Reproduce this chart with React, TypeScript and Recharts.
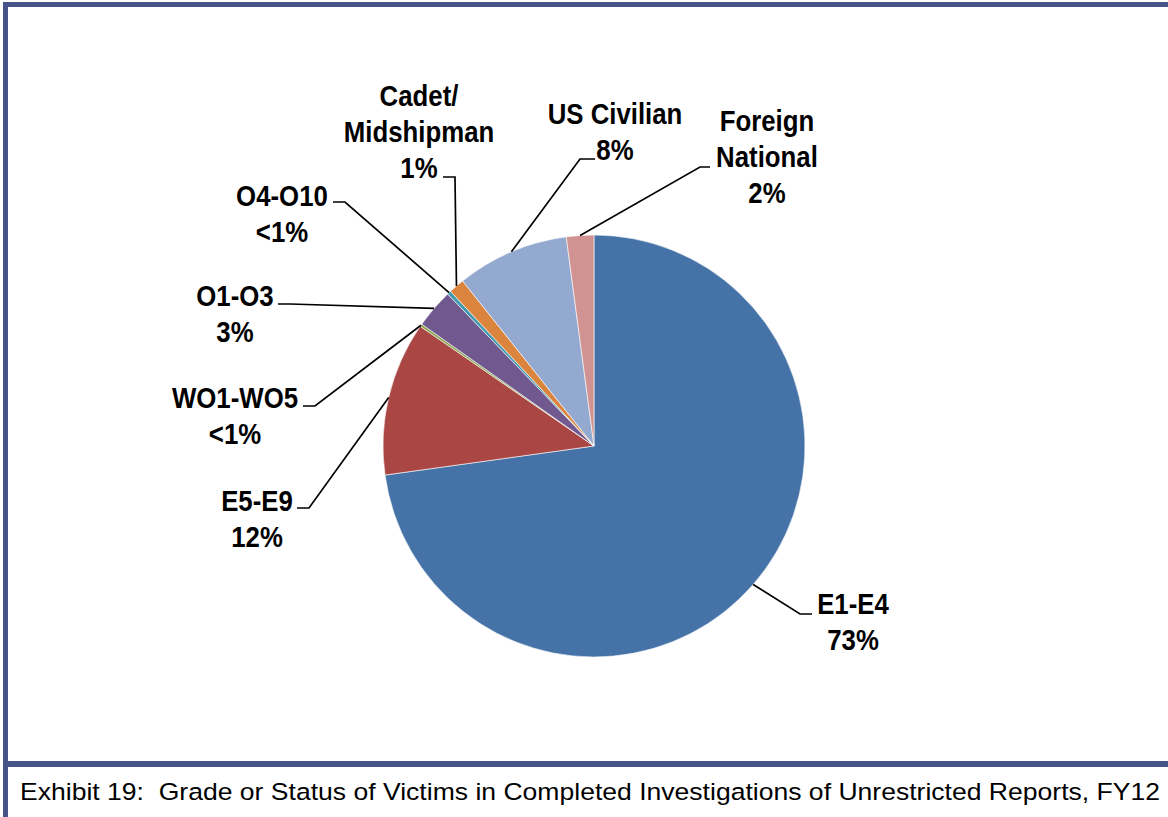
import React from "react";
import { Cell, Pie, PieChart } from "recharts";

// victims by grade / status, percent of total
const grades = ["E1-E4", "E5-E9", "WO1-WO5", "O1-O3", "O4-O10", "Cadet/Midshipman", "US Civilian", "Foreign National"];
const shares = [72.8, 11.8, 0.2, 3.0, 0.3, 1.2, 8.6, 2.1];
const shareLabels = ["73%", "12%", "<1%", "3%", "<1%", "1%", "8%", "2%"];
// how each name is broken over lines in the label
const nameLines = [["E1-E4"], ["E5-E9"], ["WO1-WO5"], ["O1-O3"], ["O4-O10"], ["Cadet/", "Midshipman"], ["US Civilian"], ["Foreign", "National"]];

const colors = ["#4572A7", "#AA4643", "#89A54E", "#71588F", "#4198AF", "#DB843D", "#93A9CF", "#D19392"];
const frameColor = "#46548A";

// label placement: text centre x, first line centre y, leader elbow (ex, ey) and end ax
const labelLayout = [
  { tx: 853, ty: 603, ex: 800, ey: 614, ax: 812 },
  { tx: 257, ty: 500, ex: 309, ey: 508, ax: 297 },
  { tx: 235, ty: 397, ex: 315, ey: 406, ax: 303 },
  { tx: 235, ty: 295, ex: 290, ey: 304, ax: 278 },
  { tx: 282, ty: 195, ex: 345, ey: 202, ax: 333 },
  { tx: 419, ty: 95, ex: 455, ey: 177, ax: 443 },
  { tx: 615, ty: 113, ex: 580, ey: 159, ax: 595 },
  { tx: 767, ty: 120, ex: 700, ey: 167, ax: 710 }
];

const data = grades.map((name, i) => ({ name, value: shares[i] }));

const RAD = Math.PI / 180;
const labelFont = "'Liberation Sans', Arial, sans-serif";

function renderLabel(props: any) {
  const { cx, cy, midAngle, outerRadius, index } = props;
  const px = cx + outerRadius * Math.cos(-midAngle * RAD);
  const py = cy + outerRadius * Math.sin(-midAngle * RAD);
  const l = labelLayout[index];
  const lines = [...nameLines[index], shareLabels[index]];
  return (
    <g key={`lbl-${index}`}>
      <polyline
        points={`${px},${py} ${l.ex},${l.ey} ${l.ax},${l.ey}`}
        fill="none"
        stroke="#000"
        strokeWidth={1.7}
      />
      {/* narrow bold look: Arial bold squeezed horizontally */}
      <text
        transform={`translate(${l.tx},0) scale(0.86,1)`}
        textAnchor="middle"
        fontFamily={labelFont}
        fontWeight="bold"
        fontSize={30}
        fill="#000"
      >
        {lines.map((t, j) => (
          <tspan key={j} x={0} y={l.ty + j * 36 + 11}>
            {t}
          </tspan>
        ))}
      </text>
    </g>
  );
}

export default function App() {
  return (
    <div style={{ position: "relative", width: 1168, height: 817, background: "#fff" }}>
      <style>{"body { margin: 0; }"}</style>
      <div style={{ position: "absolute", left: 0, top: 0 }}>
        <PieChart width={1168} height={760} margin={{ top: 0, right: 0, bottom: 0, left: 0 }}>
          <Pie
            data={data}
            dataKey="value"
            nameKey="name"
            cx={594}
            cy={446}
            outerRadius={211}
            startAngle={90}
            endAngle={-270}
            stroke="#fff"
            strokeWidth={0.6}
            label={renderLabel}
            labelLine={false}
            isAnimationActive={false}
          >
            {data.map((d, i) => (
              <Cell key={d.name} fill={colors[i]} />
            ))}
          </Pie>
        </PieChart>
      </div>
      <svg style={{ position: "absolute", left: 0, top: 0, zIndex: 2 }} width={1168} height={817}>
        <rect x={3} y={2} width={1165} height={5} fill={frameColor} />
        <rect x={3} y={2} width={5} height={815} fill={frameColor} />
        <rect x={3} y={761} width={1165} height={6} fill={frameColor} />
        <text
          x={20}
          y={800}
          fontFamily="'Liberation Sans', Arial, sans-serif"
          fontSize={24.5}
          fill="#000"
          textLength={1140}
          lengthAdjust="spacingAndGlyphs"
          style={{ whiteSpace: "pre" }}
        >
          {"Exhibit 19:  Grade or Status of Victims in Completed Investigations of Unrestricted Reports, FY12"}
        </text>
      </svg>
    </div>
  );
}
